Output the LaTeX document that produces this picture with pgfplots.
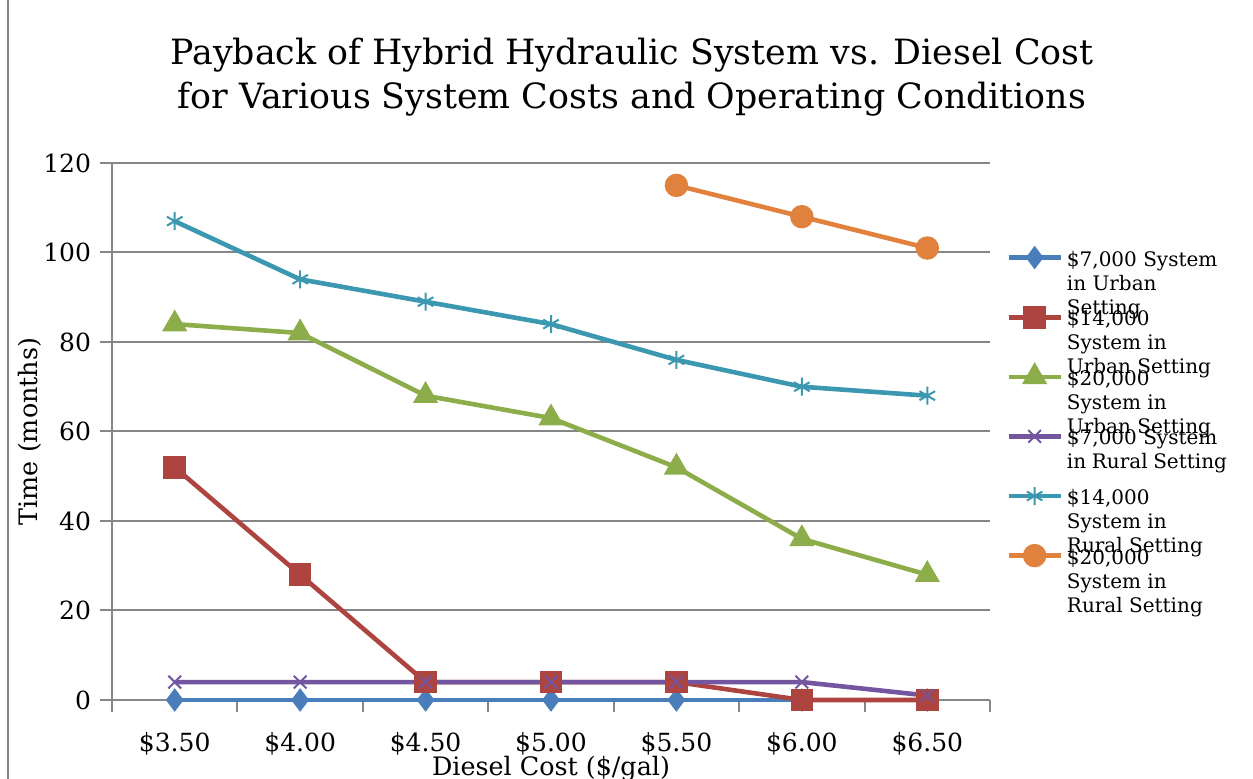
\documentclass[border=0pt]{standalone}
\usepackage{fontspec}
\setmainfont{DejaVu Serif}
\usepackage{pgfplots}
\pgfplotsset{compat=1.18}

\definecolor{axgray}{HTML}{868686}
\definecolor{cblue}{HTML}{4A7EBB}
\definecolor{cred}{HTML}{AE4440}
\definecolor{cgreen}{HTML}{8DAD4A}
\definecolor{cpurple}{HTML}{7455A0}
\definecolor{cteal}{HTML}{3C98B0}
\definecolor{corange}{HTML}{E0823D}

% legend text: wrapped, zero-size box so entries overlap like the original
\newcommand{\lentry}[1]{\raisebox{-5pt}[0pt][0pt]{\parbox[t]{80pt}{\raggedright #1}}}

\begin{document}
\begin{tikzpicture}
\useasboundingbox (0,0) rectangle (626.5pt,389.5pt);
\draw[axgray, line width=0.8pt] (4pt,0) -- (4pt,389.5pt);
\node[align=center, font=\fontsize{17.4}{22}\selectfont] at (316pt,351pt)
  {Payback of Hybrid Hydraulic System vs. Diesel Cost\\for Various System Costs and Operating Conditions};
\begin{axis}[
  at={(56pt,39.5pt)}, anchor=south west,
  scale only axis, width=439pt, height=268.5pt,
  xmin=-0.5, xmax=6.5, ymin=0, ymax=120,
  ytick={0,20,...,120},
  xtick={-0.5,0.5,...,6.5}, xticklabels={},
  extra x ticks={0,1,2,3,4,5,6},
  extra x tick labels={\$3.50,\$4.00,\$4.50,\$5.00,\$5.50,\$6.00,\$6.50},
  extra x tick style={tick style={draw=none}, grid=none,
    xticklabel style={yshift=-6pt}},
  axis lines*=left,
  axis line style={axgray, line width=1pt},
  ymajorgrids, grid style={axgray, line width=1pt},
  tick align=outside, major tick length=6pt,
  tick style={axgray, line width=1pt},
  tick label style={font=\fontsize{12.5}{14}\selectfont},
  /pgf/number format/assume math mode=true,
  xlabel={Diesel Cost (\$/gal)},
  ylabel={Time (months)},
  label style={font=\fontsize{12.7}{14}\selectfont},
  xlabel style={at={(axis description cs:0.5,-0.127)}, anchor=center},
  ylabel style={at={(axis description cs:-0.0934,0.5)}, anchor=center},
  clip=false,
  line width=2.3pt,
  legend image code/.code={
    \path[draw=none, fill=none] (0pt,-6.5pt) rectangle (26pt,6.5pt);
    \draw[mark repeat=2, mark phase=2] plot coordinates {(0pt,0pt) (13pt,0pt) (26pt,0pt)};
  },
  legend style={at={(axis description cs:1.016,0.8523)}, anchor=north west,
    draw=none, fill=none, inner sep=0pt, row sep=16.8pt, column sep=2pt,
    nodes={inner sep=0pt}, cells={anchor=west},
    font=\fontsize{10}{12}\selectfont},
]
\addplot[cblue, mark=diamond*, mark size=4pt] coordinates {
  (0,0) (1,0) (2,0) (3,0) (4,0) (5,0) (6,0)};
\addlegendentry{\lentry{\$7,000 System in Urban Setting}}
\addplot[cred, mark=square*, mark size=4.5pt] coordinates {
  (0,52) (1,28) (2,4) (3,4) (4,4) (5,0) (6,0)};
\addlegendentry{\lentry{\$14,000 System in Urban Setting}}
\addplot[cgreen, mark=triangle*, mark size=5pt] coordinates {
  (0,84) (1,82) (2,68) (3,63) (4,52) (5,36) (6,28)};
\addlegendentry{\lentry{\$20,000 System in Urban Setting}}
\addplot[cpurple, mark=x, mark size=4.5pt, mark options={line width=1pt}] coordinates {
  (0,4) (1,4) (2,4) (3,4) (4,4) (5,4) (6,1)};
\addlegendentry{\lentry{\$7,000 System in Rural Setting}}
\addplot[cteal, mark=asterisk, mark size=4.5pt, mark options={line width=1pt}] coordinates {
  (0,107) (1,94) (2,89) (3,84) (4,76) (5,70) (6,68)};
\addlegendentry{\lentry{\$14,000 System in Rural Setting}}
\addplot[corange, mark=*, mark size=4.7pt] coordinates {
  (4,115) (5,108) (6,101)};
\addlegendentry{\lentry{\$20,000 System in Rural Setting}}
\end{axis}
\end{tikzpicture}
\end{document}
